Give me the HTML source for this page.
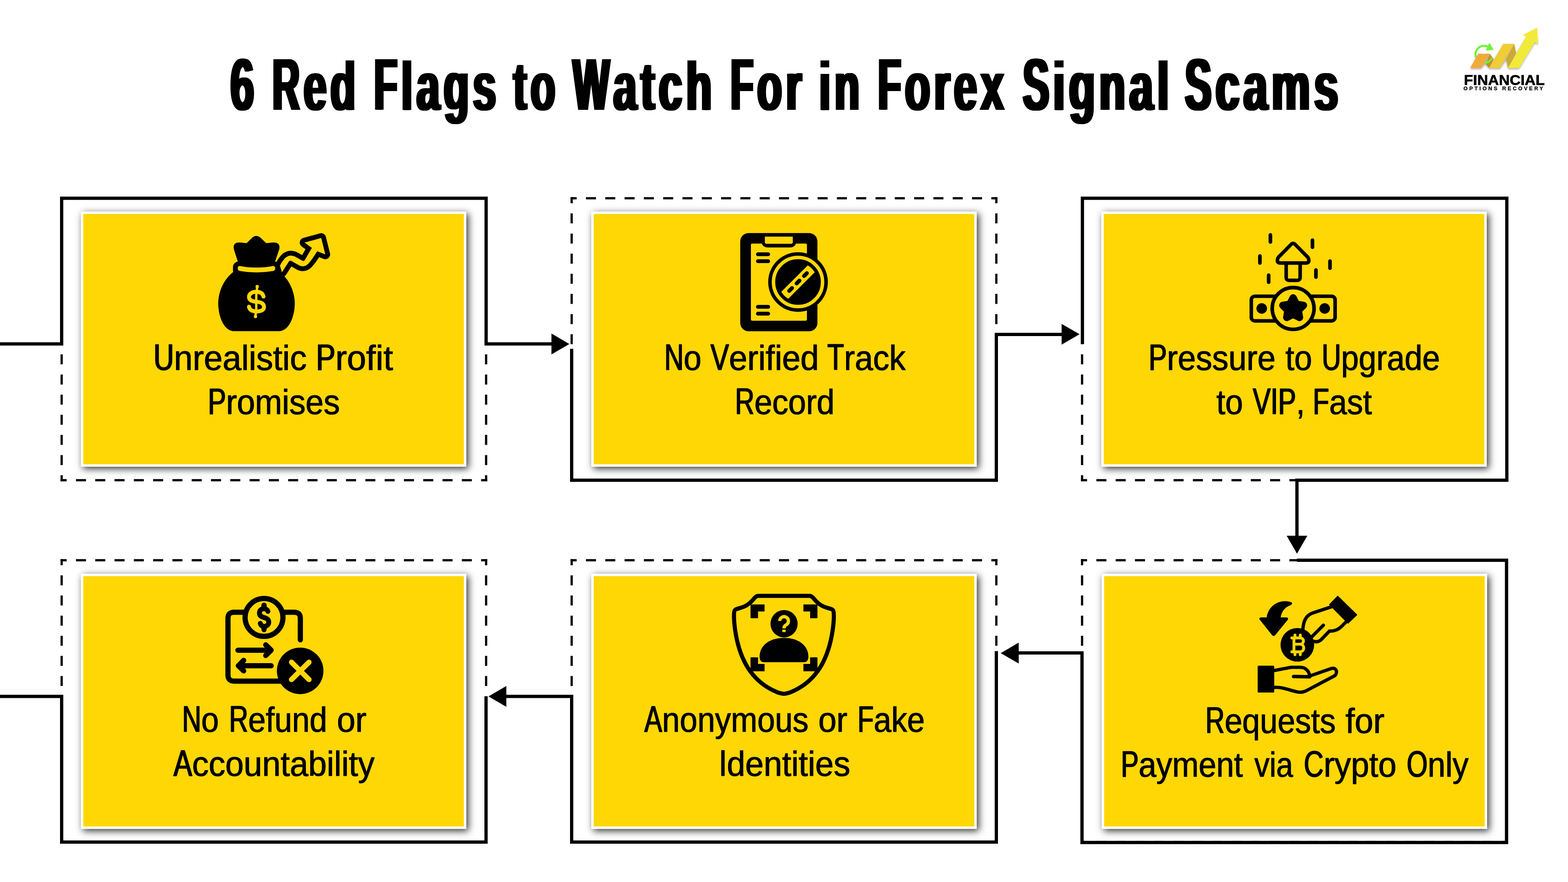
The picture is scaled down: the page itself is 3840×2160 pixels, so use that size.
<!DOCTYPE html>
<html lang="en"><head><meta charset="utf-8"><title>6 Red Flags to Watch For in Forex Signal Scams</title>
<style>
*{box-sizing:border-box}
html,body{margin:0;padding:0}
body{width:3840px;height:2160px;background:#FFFFFF;position:relative;overflow:hidden;font-family:"Liberation Sans",sans-serif;color:#000}
svg.frames,svg.icons{position:absolute;left:0;top:0}
.card{position:absolute;width:944.0px;height:625.0px;background:#FFD705;border:6px solid #fff;box-shadow:5px 5px 17px rgba(0,0,0,.8)}
h1.title{margin:0;font-size:179.8px;font-weight:bold;line-height:287px}
.tw{position:absolute;white-space:pre;transform-origin:0 0;text-shadow:3.0px 0 0 #000,-3.0px 0 0 #000,6.0px 0 0 #000,-6.0px 0 0 #000;letter-spacing:15px;}
.tw .s{font-size:0.93em}
.c{display:inline-block;transform-origin:0 50%}
.tw .c{transform:scaleX(0.85);text-shadow:3.7px 0 0 #000,-3.7px 0 0 #000,7.4px 0 0 #000,-7.4px 0 0 #000;}
.lw .c{transform:scaleX(0.78);text-shadow:1.5px 0 #000,-1.5px 0 #000;}
.label{margin:0}
.lw{position:absolute;white-space:pre;transform-origin:0 0;font-size:91.0px;line-height:145px;-webkit-text-stroke:1.0px #000;text-shadow:.6px 0 #000,-.6px 0 #000;}
.lw .s{font-size:0.928em}

.logo{margin:0;font-weight:bold}
.logo span{position:absolute;white-space:pre;transform-origin:0 0;font-weight:bold}

</style></head>
<body>
<svg class="frames" width="3840" height="2160" viewBox="0 0 3840 2160">
<g stroke="#000" stroke-width="5.5" fill="none"><line x1="148.25" y1="485.50" x2="1193.25" y2="485.50" stroke-width="5.5" stroke-dasharray="24.50 22.750" stroke-dashoffset="9.50"/>
<line x1="148.25" y1="1176.00" x2="1193.25" y2="1176.00" stroke-width="5.5" stroke-dasharray="24.50 22.750" stroke-dashoffset="9.50"/>
<line x1="151.00" y1="482.75" x2="151.00" y2="1178.75" stroke-dasharray="24.50 24.821" stroke-dashoffset="9.50"/>
<line x1="1190.50" y1="482.75" x2="1190.50" y2="1178.75" stroke-dasharray="24.50 24.821" stroke-dashoffset="9.50"/>
<line x1="1397.25" y1="485.50" x2="2442.75" y2="485.50" stroke-width="5.5" stroke-dasharray="24.50 22.773" stroke-dashoffset="9.50"/>
<line x1="1397.25" y1="1176.00" x2="2442.75" y2="1176.00" stroke-width="5.5" stroke-dasharray="24.50 22.773" stroke-dashoffset="9.50"/>
<line x1="1400.00" y1="482.75" x2="1400.00" y2="1178.75" stroke-dasharray="24.50 24.821" stroke-dashoffset="9.50"/>
<line x1="2440.00" y1="482.75" x2="2440.00" y2="1178.75" stroke-dasharray="24.50 24.821" stroke-dashoffset="9.50"/>
<line x1="2647.25" y1="485.50" x2="3692.75" y2="485.50" stroke-width="5.5" stroke-dasharray="24.50 22.773" stroke-dashoffset="9.50"/>
<line x1="2647.25" y1="1176.00" x2="3692.75" y2="1176.00" stroke-width="5.5" stroke-dasharray="24.50 22.773" stroke-dashoffset="9.50"/>
<line x1="2650.00" y1="482.75" x2="2650.00" y2="1178.75" stroke-dasharray="24.50 24.821" stroke-dashoffset="9.50"/>
<line x1="3690.00" y1="482.75" x2="3690.00" y2="1178.75" stroke-dasharray="24.50 24.821" stroke-dashoffset="9.50"/>
<line x1="148.25" y1="1372.00" x2="1193.25" y2="1372.00" stroke-width="5.5" stroke-dasharray="24.50 22.750" stroke-dashoffset="9.50"/>
<line x1="148.25" y1="2062.30" x2="1193.25" y2="2062.30" stroke-width="5.5" stroke-dasharray="24.50 22.750" stroke-dashoffset="9.50"/>
<line x1="151.00" y1="1369.25" x2="151.00" y2="2065.05" stroke-dasharray="24.50 24.807" stroke-dashoffset="9.50"/>
<line x1="1190.50" y1="1369.25" x2="1190.50" y2="2065.05" stroke-dasharray="24.50 24.807" stroke-dashoffset="9.50"/>
<line x1="1397.25" y1="1372.00" x2="2442.75" y2="1372.00" stroke-width="5.5" stroke-dasharray="24.50 22.773" stroke-dashoffset="9.50"/>
<line x1="1397.25" y1="2062.30" x2="2442.75" y2="2062.30" stroke-width="5.5" stroke-dasharray="24.50 22.773" stroke-dashoffset="9.50"/>
<line x1="1400.00" y1="1369.25" x2="1400.00" y2="2065.05" stroke-dasharray="24.50 24.807" stroke-dashoffset="9.50"/>
<line x1="2440.00" y1="1369.25" x2="2440.00" y2="2065.05" stroke-dasharray="24.50 24.807" stroke-dashoffset="9.50"/>
<line x1="2647.25" y1="1372.00" x2="3692.75" y2="1372.00" stroke-width="5.5" stroke-dasharray="24.50 22.773" stroke-dashoffset="9.50"/>
<line x1="2647.25" y1="2062.30" x2="3692.75" y2="2062.30" stroke-width="5.5" stroke-dasharray="24.50 22.773" stroke-dashoffset="9.50"/>
<line x1="2650.00" y1="1369.25" x2="2650.00" y2="2065.05" stroke-dasharray="24.50 24.807" stroke-dashoffset="9.50"/>
<line x1="3690.00" y1="1369.25" x2="3690.00" y2="2065.05" stroke-dasharray="24.50 24.807" stroke-dashoffset="9.50"/></g>
<g stroke="#000" stroke-width="8" fill="none" stroke-linejoin="miter"><polyline points="-10.0,842.3 151.0,842.3 151.0,485.5 1190.5,485.5 1190.5,842.2 1352.0,842.2"/>
<polyline points="1400.0,854.3 1400.0,1176.0 2440.0,1176.0 2440.0,819.0 2601.0,819.0"/>
<polyline points="2650.8,842.8 2650.8,485.5 3690.2,485.5 3690.2,1176.0 3176.2,1176.0 3176.2,1313.0"/>
<polyline points="3176.0,1372.0 3689.5,1372.0 3689.5,2063.3 2649.8,2063.3 2649.8,1599.0 2494.0,1599.0"/>
<polyline points="2440.0,1594.6 2440.0,2062.3 1400.0,2062.3 1400.0,1705.5 1239.0,1705.5"/>
<polyline points="1190.3,1705.2 1190.3,2062.3 151.0,2062.3 151.0,1705.5 -10.0,1705.5"/></g>
<g fill="#000"><polygon points="1350.5,816.8 1394.3,842.4 1350.5,868.0"/>
<polygon points="2599.9,793.2 2643.9,818.6 2599.9,844.0"/>
<polygon points="3151.0,1312.0 3201.6,1312.0 3176.3,1356.0"/>
<polygon points="2494.8,1573.8 2450.8,1599.4 2494.8,1625.0"/>
<polygon points="1240.0,1680.0 1196.2,1705.5 1240.0,1731.0"/></g>
</svg>
<div class="card" style="left:197.8px;top:517.8px"></div>
<div class="card" style="left:1447.8px;top:517.8px"></div>
<div class="card" style="left:2697.0px;top:517.8px"></div>
<div class="card" style="left:2697.6px;top:1404.8px"></div>
<div class="card" style="left:1447.8px;top:1404.7px"></div>
<div class="card" style="left:197.8px;top:1404.7px"></div>

<svg class="icons" width="3840" height="2160" viewBox="0 0 3840 2160">
<g transform="translate(500,550) scale(0.193274)">
<path d="M985,605 L1078,462 Q1090,452 1105,460 L1200,515 Q1265,550 1320,495 Q1370,440 1432,338 L1535,378 L1483,170 L1272,228 L1365,295 L1275,450 Q1262,468 1240,455 L1150,405 Q1085,375 1030,420 Q990,460 960,520 Z" fill="#FFD705" stroke="#000" stroke-width="122" stroke-linejoin="round" paint-order="stroke fill"/>
<path d="M372,598 C250,690 178,850 178,1000 C178,1160 250,1350 375,1350 L950,1350 C1075,1350 1148,1160 1148,1000 C1148,850 1075,690 955,598 Z" fill="#000"/>
<rect x="365" y="468" width="595" height="180" rx="70" fill="#000"/>
<path d="M430,480 L376,312 Q360,225 450,227 L538,236 L612,163 Q660,123 710,163 L786,236 L875,227 Q968,225 952,312 L895,480 Z" fill="#000"/>
<path d="M455,525 Q660,565 870,525 Q900,522 900,555 Q900,585 870,588 Q660,625 455,588 Q425,585 425,555 Q425,522 455,525 Z" fill="#FFD705"/>
<g fill="none" stroke="#FFD705" stroke-linecap="round">
<path d="M752,912 C740,862 700,852 662,852 C610,852 568,875 568,915 C568,960 610,975 662,978 C720,982 758,1000 758,1045 C758,1085 715,1100 662,1100 C610,1100 575,1085 568,1040" stroke-width="50"/>
<path d="M672,785 L660,900 L660,1060 L650,1165" stroke-width="30"/>
<path d="M672,785 L672,786 M650,1164 L650,1165" stroke-width="42"/>
</g>
</g>
<g transform="translate(1780,550) scale(0.193274)">
<rect x="170" y="108" width="978" height="1244" rx="105" fill="#000"/>
<rect x="305" y="240" width="710" height="978" rx="18" fill="#FFD705"/>
<path d="M440,235 Q460,290 520,290 L800,290 Q860,290 878,235 L878,120 L440,120 Z" fill="#000"/>
<path d="M482,153 L836,153 L836,225 Q836,243 815,243 L503,243 Q482,243 482,225 Z" fill="#FFD705"/>
<rect x="370" y="352" width="178" height="48" rx="24" fill="#000"/>
<rect x="370" y="440" width="178" height="48" rx="24" fill="#000"/>
<rect x="370" y="1018" width="178" height="48" rx="24" fill="#000"/>
<rect x="370" y="1105" width="178" height="48" rx="24" fill="#000"/>
<circle cx="902" cy="728" r="378" fill="#000"/>
<circle cx="902" cy="728" r="311" fill="none" stroke="#FFD705" stroke-width="44"/>
<clipPath id="magclip"><circle cx="902" cy="728" r="245"/></clipPath>
<g clip-path="url(#magclip)"><rect x="-320" y="-62" width="640" height="124" fill="#FFD705" transform="translate(902,728) rotate(-45)"/></g>
<g transform="translate(902,728) rotate(-45)" fill="#000">
<rect x="-183" y="-25" width="100" height="50" rx="25"/>
<rect x="-50" y="-25" width="100" height="50" rx="25"/>
<rect x="83" y="-25" width="100" height="50" rx="25"/>
</g>
</g>
<g transform="translate(3030,550) scale(0.193274)">
<g stroke="#000" stroke-width="46" stroke-linecap="round" stroke-linejoin="round" fill="none">
<path d="M420,131 V220 M953,198 V287 M287,398 V487 M1175,463 V553 M997,575 V665 M398,641 V730"/>
<path d="M620,487 L620,668 Q620,707 660,707 L757,707 Q797,707 797,668 L797,487" stroke-width="45"/>
<path d="M674,260 Q708,218 742,260 L896,416 Q930,487 866,487 L550,487 Q486,487 520,416 Z" stroke-width="45" fill="#FFD705"/>
<rect x="178" y="908" width="1062" height="312" rx="45" stroke-width="45"/>
<circle cx="708" cy="1063" r="265" fill="#FFD705"/>
</g>
<circle cx="310" cy="1063" r="67" fill="#000"/>
<circle cx="1108" cy="1063" r="67" fill="#000"/>
<polygon points="708.0,928.0 749.1,1009.4 839.2,1023.4 774.6,1087.6 789.1,1177.6 708.0,1136.0 626.9,1177.6 641.4,1087.6 576.8,1023.4 666.9,1009.4" fill="#000" stroke="#000" stroke-width="92" stroke-linejoin="round"/>
</g>
<g transform="translate(3050,1440) scale(0.193274)">
<path d="M270,372 C285,250 390,160 520,168 C570,172 600,185 590,200 C585,215 560,222 540,232 C490,260 455,310 447,372 L520,372 Q552,378 535,405 L375,600 Q355,618 338,598 L180,400 Q168,378 195,372 Z" fill="#000"/>
<g stroke="#000" stroke-width="42" stroke-linecap="round" stroke-linejoin="round" fill="none">
<path d="M1085,240 L850,318 C760,350 735,430 728,525"/>
<path d="M1275,430 L1215,490 C1170,535 1110,548 1065,545 L960,655 C920,690 880,685 845,670"/>
<path d="M988,472 L845,615"/>
<path d="M365,1045 L580,1005 L700,1005 C770,1008 810,1060 815,1120"/>
<path d="M610,1122 L815,1125" stroke-width="44"/>
<path d="M830,1110 L1090,1020 C1140,1005 1165,1050 1150,1085 C1145,1100 1135,1110 1125,1115 L765,1305 C720,1325 690,1325 650,1315 C560,1295 450,1250 365,1260"/>
</g>
<polygon points="1170,106 1409,340 1300,444 1068,210" fill="#000" stroke="#000" stroke-width="14" stroke-linejoin="round"/>
<rect x="155" y="985" width="210" height="340" rx="14" fill="#000"/>
<circle cx="658" cy="720" r="213" fill="#000"/>
<g stroke="#FFD705" stroke-width="36" fill="none" stroke-linecap="round" stroke-linejoin="round">
<path d="M588,632 L690,632 C750,632 750,712 690,712 L632,712 M690,712 C755,712 755,808 690,808 L588,808"/>
<path d="M615,632 V808" stroke-linecap="butt"/>
<path d="M628,596 V620 M695,596 V620 M628,822 V845 M695,822 V845"/>
</g>
</g>
<g transform="translate(1770,1440) scale(0.193274)">
<path d="M450,100 L1100,100 C1150,100 1160,170 1250,220 C1330,265 1380,255 1400,285 C1420,310 1410,700 1250,980 C1100,1240 850,1340 775,1340 C700,1340 450,1240 300,980 C140,700 130,310 150,285 C170,255 220,265 300,220 C390,170 400,100 450,100 Z" fill="none" stroke="#000" stroke-width="52" stroke-linejoin="round"/>
<g fill="#000">
<path d="M352,208 H530 V298 H447 V383 H352 Z"/>
<path d="M1200,208 H1022 V298 H1107 V383 H1200 Z"/>
<path d="M352,1055 H530 V962 H447 V878 H352 Z"/>
<path d="M1200,1055 H1022 V962 H1107 V878 H1200 Z"/>
<ellipse cx="777" cy="453" rx="172" ry="174"/>
<path d="M467,870 C467,720 600,632 777,632 C950,632 1085,720 1085,870 Q1085,940 1025,940 L525,940 Q467,940 467,870 Z"/>
</g>
<path d="M722,418 A55,55 0 1 1 805,466 Q776,482 776,512" fill="none" stroke="#FFD705" stroke-width="42"/>
<rect x="755" y="527" width="42" height="32" fill="#FFD705"/>
</g>
<g transform="translate(520,1440) scale(0.193274)">
<g stroke="#000" stroke-width="66" stroke-linecap="round" stroke-linejoin="round" fill="none">
<path d="M1115,657 L1115,385 Q1115,307 1037,307 L276,307 Q198,307 198,385 L198,1102 Q198,1180 276,1180 L880,1180"/>
<circle cx="655" cy="373" r="240" fill="#FFD705"/>
<path d="M325,788 H745 M677,720 L745,788 L677,855"/>
<path d="M745,985 H330 M397,917 L330,985 L397,1050"/>
<path d="M655,218 V250 M655,498 V528"/>
<path d="M704,296 C695,268 672,262 652,262 C620,262 597,285 597,318 C597,352 625,366 655,374 C690,384 715,398 715,432 C715,465 690,486 655,486 C630,486 612,470 608,448" stroke-width="62"/>
</g>
<circle cx="1113" cy="1050" r="295" fill="#000"/>
<path d="M1003,940 L1225,1160 M1225,940 L1003,1160" stroke="#FFD705" stroke-width="66" stroke-linecap="round"/>
</g>
<g transform="translate(3560,50) scale(0.138007)">
<defs><filter id="lsh" x="-20%" y="-20%" width="140%" height="150%"><feGaussianBlur stdDeviation="14"/></filter></defs>
<path d="M292,870 H485 L560,790 L630,870 H820 L930,720 L965,870 H1160 L1440,410 L1495,440 L1490,300 L1282,315 L1100,600 L1075,440 H880 L700,720 L640,615 H435 Z" fill="#000" opacity=".28" filter="url(#lsh)"/>
<path d="M679.8,664.2 A153,153 0 1 1 616.5,469.5" fill="none" stroke="#70F23A" stroke-width="36"/>
<polygon points="292,845 485,845 640,590 435,590" fill="#F2A93B"/>
<polygon points="640,590 712,688 628,845 572,778 " fill="#C98E2B"/>
<path d="M679.8,664.2 A153,153 0 0 1 526.7,754.4" fill="none" stroke="#70F23A" stroke-width="36"/>
<polygon points="485,845 640,590 600,590 470,805" fill="#F2A93B"/>
<polygon points="628,845 820,845 1075,415 880,415" fill="#F0CC35"/>
<polygon points="1075,415 1108,580 965,845 930,690" fill="#CBAA35"/>
<polygon points="965,845 1160,845 1440,385 1495,415 1485,125 1228,258 1282,292" fill="#F2EA3A"/>
<polygon points="635,412 696,518 580,524" fill="#70F23A" stroke="#70F23A" stroke-width="18" stroke-linejoin="round"/>
</g>
</svg>
<h1 class="title"><span class="tw" style="left:564.35px;top:63.10px;transform:scaleX(0.5847)">6</span> <span class="tw" style="left:666.67px;top:63.10px;transform:scaleX(0.6082)"><span class="c" style="margin-right:-0.108em">R</span><span class="s">ed</span></span> <span class="tw" style="left:915.95px;top:63.10px;transform:scaleX(0.6128)"><span class="c" style="margin-right:-0.092em">F</span><span class="s">lags</span></span> <span class="tw" style="left:1256.55px;top:63.10px;transform:scaleX(0.5962)"><span class="s">to</span></span> <span class="tw" style="left:1403.11px;top:63.10px;transform:scaleX(0.6213)"><span class="c" style="margin-right:-0.142em">W</span><span class="s">atch</span></span> <span class="tw" style="left:1788.70px;top:63.10px;transform:scaleX(0.6003)"><span class="c" style="margin-right:-0.092em">F</span><span class="s">or</span></span> <span class="tw" style="left:2006.46px;top:63.10px;transform:scaleX(0.6068)"><span class="s">in</span></span> <span class="tw" style="left:2150.46px;top:63.10px;transform:scaleX(0.6089)"><span class="c" style="margin-right:-0.092em">F</span><span class="s">orex</span></span> <span class="tw" style="left:2504.77px;top:63.10px;transform:scaleX(0.6314)"><span class="c" style="margin-right:-0.100em">S</span><span class="s">ignal</span></span> <span class="tw" style="left:2902.38px;top:63.10px;transform:scaleX(0.6365)"><span class="c" style="margin-right:-0.100em">S</span><span class="s">cams</span></span></h1>
<div class="label"><div class="ln"><span class="lw" style="left:375.56px;top:801.81px;transform:scaleX(0.9760)"><span class="c" style="margin-right:-0.159em">U</span><span class="s">nrealistic</span></span> <span class="lw" style="left:773.51px;top:801.81px;transform:scaleX(1.0022)"><span class="c" style="margin-right:-0.147em">P</span><span class="s">rofit</span></span></div><div class="ln"><span class="lw" style="left:509.38px;top:910.21px;transform:scaleX(0.9431)"><span class="c" style="margin-right:-0.147em">P</span><span class="s">romises</span></span></div></div>
<div class="label"><div class="ln"><span class="lw" style="left:1626.77px;top:801.81px;transform:scaleX(0.9239)"><span class="c" style="margin-right:-0.159em">N</span><span class="s">o</span></span> <span class="lw" style="left:1740.47px;top:801.81px;transform:scaleX(0.9566)"><span class="c" style="margin-right:-0.147em">V</span><span class="s">erified</span></span> <span class="lw" style="left:2025.96px;top:801.81px;transform:scaleX(0.9449)"><span class="c" style="margin-right:-0.134em">T</span><span class="s">rack</span></span></div><div class="ln"><span class="lw" style="left:1800.45px;top:910.21px;transform:scaleX(0.9284)"><span class="c" style="margin-right:-0.159em">R</span><span class="s">ecord</span></span></div></div>
<div class="label"><div class="ln"><span class="lw" style="left:2812.97px;top:801.91px;transform:scaleX(0.9451)"><span class="c" style="margin-right:-0.147em">P</span><span class="s">ressure</span></span> <span class="lw" style="left:3148.04px;top:801.91px;transform:scaleX(0.9264)"><span class="s">to</span></span> <span class="lw" style="left:3237.29px;top:801.91px;transform:scaleX(0.9213)"><span class="c" style="margin-right:-0.159em">U</span><span class="s">pgrade</span></span></div><div class="ln"><span class="lw" style="left:2979.14px;top:909.91px;transform:scaleX(0.9220)"><span class="s">to</span></span> <span class="lw" style="left:3067.86px;top:909.91px;transform:scaleX(0.9271)"><span class="c" style="margin-right:-0.147em">V</span><span class="c" style="margin-right:-0.061em">I</span><span class="c" style="margin-right:-0.147em">P</span><span class="s">,</span></span> <span class="lw" style="left:3214.55px;top:909.91px;transform:scaleX(0.9272)"><span class="c" style="margin-right:-0.134em">F</span><span class="s">ast</span></span></div></div>
<div class="label"><div class="ln"><span class="lw" style="left:2952.19px;top:1691.01px;transform:scaleX(0.9196)"><span class="c" style="margin-right:-0.159em">R</span><span class="s">equests</span></span> <span class="lw" style="left:3294.72px;top:1691.01px;transform:scaleX(0.9678)"><span class="s">for</span></span></div><div class="ln"><span class="lw" style="left:2744.98px;top:1798.41px;transform:scaleX(0.9212)"><span class="c" style="margin-right:-0.147em">P</span><span class="s">ayment</span></span> <span class="lw" style="left:3071.75px;top:1798.41px;transform:scaleX(0.8763)"><span class="s">via</span></span> <span class="lw" style="left:3193.43px;top:1798.41px;transform:scaleX(0.9495)"><span class="c" style="margin-right:-0.159em">C</span><span class="s">rypto</span></span> <span class="lw" style="left:3444.60px;top:1798.41px;transform:scaleX(0.9278)"><span class="c" style="margin-right:-0.171em">O</span><span class="s">nly</span></span></div></div>
<div class="label"><div class="ln"><span class="lw" style="left:1578.23px;top:1688.01px;transform:scaleX(0.9201)"><span class="c" style="margin-right:-0.147em">A</span><span class="s">nonymous</span></span> <span class="lw" style="left:2003.76px;top:1688.01px;transform:scaleX(0.9483)"><span class="s">or</span></span> <span class="lw" style="left:2099.70px;top:1688.01px;transform:scaleX(0.9170)"><span class="c" style="margin-right:-0.134em">F</span><span class="s">ake</span></span></div><div class="ln"><span class="lw" style="left:1760.89px;top:1796.01px;transform:scaleX(0.9610)"><span class="c" style="margin-right:-0.061em">I</span><span class="s">dentities</span></span></div></div>
<div class="label"><div class="ln"><span class="lw" style="left:445.51px;top:1688.21px;transform:scaleX(0.9150)"><span class="c" style="margin-right:-0.159em">N</span><span class="s">o</span></span> <span class="lw" style="left:560.81px;top:1688.21px;transform:scaleX(0.9145)"><span class="c" style="margin-right:-0.159em">R</span><span class="s">efund</span></span> <span class="lw" style="left:824.70px;top:1688.21px;transform:scaleX(0.9651)"><span class="s">or</span></span></div><div class="ln"><span class="lw" style="left:425.26px;top:1795.81px;transform:scaleX(0.9616)"><span class="c" style="margin-right:-0.147em">A</span><span class="s">ccountability</span></span></div></div>

<p class="logo"><span style="-webkit-text-stroke:0.9px #000;left:3584.75px;top:168.17px;font-size:35.8px;line-height:57px;letter-spacing:0.0px;transform:scaleX(1.0265)">FINANCIAL</span> <span style="-webkit-text-stroke:0.35px #000;left:3584.36px;top:207.85px;font-size:12.4px;line-height:19px;letter-spacing:4.0px;transform:scaleX(1.0391)">OPTIONS</span> <span style="-webkit-text-stroke:0.35px #000;left:3678.87px;top:207.85px;font-size:12.4px;line-height:19px;letter-spacing:4.0px;transform:scaleX(1.0277)">RECOVERY</span></p>
</body></html>
